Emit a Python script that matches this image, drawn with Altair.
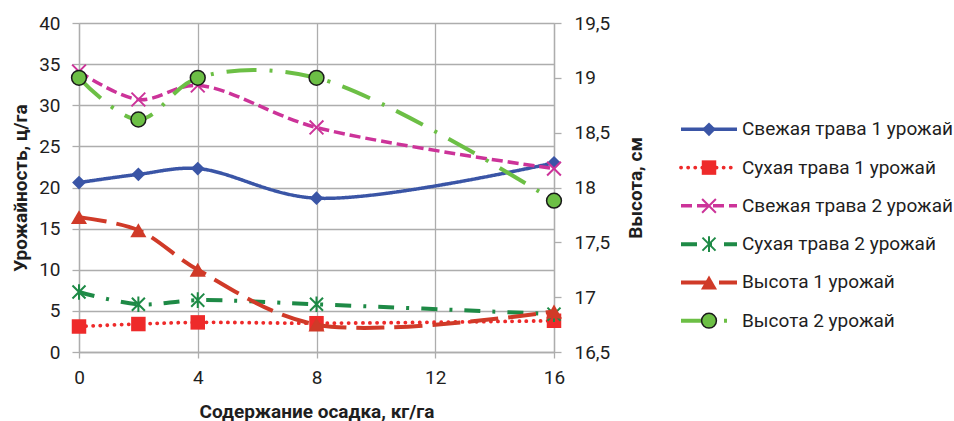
import altair as alt
import pandas as pd

# Sludge dose, kg/ha
dose = [0, 2, 4, 8, 16]

names = [
    "Свежая трава 1 урожай",
    "Сухая трава 1 урожай",
    "Свежая трава 2 урожай",
    "Сухая трава 2 урожай",
    "Высота 1 урожай",
    "Высота 2 урожай",
]

# Yields, c/ha (left axis)
fresh_1 = [20.6, 21.6, 22.3, 18.7, 23.0]
dry_1 = [3.1, 3.4, 3.6, 3.5, 3.8]
fresh_2 = [34.1, 30.7, 32.4, 27.3, 22.3]
dry_2 = [7.3, 5.8, 6.3, 5.8, 4.6]
# Plant height, cm (right axis)
height_1 = [17.73, 17.61, 17.25, 16.75, 16.87]
height_2 = [19.0, 18.62, 19.0, 19.0, 17.88]

series_values = [fresh_1, dry_1, fresh_2, dry_2, height_1, height_2]
left_axis_series = [0, 1, 2, 3]
right_axis_series = [4, 5]

left_ticks = [0, 5, 10, 15, 20, 25, 30, 35, 40]
right_ticks = [16.5, 17, 17.5, 18, 18.5, 19, 19.5]
x_ticks = [0, 4, 8, 12, 16]

# Styling per series
colors = ["#3A55A6", "#EE2A2A", "#CC3399", "#1E8A46", "#D03A28", "#6CBF45"]
dashes = [[1, 0], [0.1, 7], [11, 5], [16, 12, 3, 12], [28, 10], [30, 13, 3, 13]]
widths = [3.5, 3.8, 3.5, 4, 4, 4]
caps = ["butt", "round", "butt", "butt", "butt", "butt"]
X_PATH = "M-1,-1L1,1M-1,1L1,-1"
STAR_PATH = "M-1,-1L1,1M-1,1L1,-1M0,-1.2L0,1.2"
shapes = ["diamond", "square", X_PATH, STAR_PATH, "triangle-up", "circle"]
sizes = [190, 210, 190, 170, 260, 220]
fills = [colors[0], colors[1], None, None, colors[4], colors[5]]
strokes = [None, None, colors[2], colors[3], None, "#1a1a1a"]
stroke_widths = [0, 0, 2, 2, 0, 1.5]

FONT = "Roboto"
GRID = "#ADADAD"
TEXT = "#1E1E1E"

rows = []
for name, vals in zip(names, series_values):
    for d, v in zip(dose, vals):
        rows.append({"series": name, "dose": d, "value": v})
df = pd.DataFrame(rows)
legend_df = pd.DataFrame({"series": names})

x_enc = alt.X(
    "dose:Q",
    scale=alt.Scale(domain=[0, 16], nice=False, zero=False),
    axis=alt.Axis(
        values=x_ticks,
        title="Содержание осадка, кг/га",
        grid=True,
        tickSize=6,
        labelPadding=10,
        labelFlush=False,
        titleX=237.5,
        titleY=59,
        titleBaseline="middle",
    ),
)

y_left = alt.Y(
    "value:Q",
    scale=alt.Scale(domain=[0, 40], nice=False, zero=False),
    axis=alt.Axis(
        values=left_ticks,
        orient="left",
        title="Урожайность, ц/га",
        grid=True,
        tickSize=7,
        labelPadding=12,
        labelFlush=False,
        titleX=-59,
        titleY=164.5,
        titleAngle=270,
        titleBaseline="middle",
        titleAlign="center",
    ),
)

y_right = alt.Y(
    "value:Q",
    scale=alt.Scale(domain=[16.5, 19.5], nice=False, zero=False),
    axis=alt.Axis(
        values=right_ticks,
        orient="right",
        title="Высота, см",
        grid=False,
        tickSize=7,
        labelPadding=13,
        labelFlush=False,
        labelExpr="replace(toString(datum.value), '.', ',')",
        titleX=81,
        titleY=164.5,
        titleAngle=270,
        titleBaseline="middle",
        titleAlign="center",
    ),
)


def marker_props(i):
    props = dict(shape=shapes[i], size=sizes[i], opacity=1, strokeWidth=stroke_widths[i])
    if fills[i] is not None:
        props["filled"] = True
        props["fill"] = fills[i]
    else:
        props["filled"] = False
        props["fill"] = "transparent"
    props["stroke"] = strokes[i] if strokes[i] is not None else fills[i]
    return props


def series_layers(i, y_enc):
    base = alt.Chart(df).transform_filter(alt.datum.series == names[i])
    line = base.mark_line(
        interpolate="catmull-rom",
        color=colors[i],
        strokeWidth=widths[i],
        strokeDash=dashes[i],
        strokeCap=caps[i],
    ).encode(x=x_enc, y=y_enc)
    pts = base.mark_point(**marker_props(i)).encode(x=x_enc, y=y_enc)
    return [line, pts]


left_group = alt.layer(*[l for i in left_axis_series for l in series_layers(i, y_left)])
right_group = alt.layer(*[l for i in right_axis_series for l in series_layers(i, y_right)])

# Legend panel to the right of the plot
legend_y = alt.Y(
    "series:N",
    scale=alt.Scale(type="point", domain=names, range=[106.3, 297.7], padding=0),
    axis=None,
)
legend_layers = []
for i, name in enumerate(names):
    b = alt.Chart(legend_df).transform_filter(alt.datum.series == name)
    legend_layers.append(
        b.mark_rule(
            color=colors[i], strokeWidth=widths[i], strokeDash=dashes[i], strokeCap=caps[i]
        ).encode(x=alt.value(602), x2=alt.value(658), y=legend_y)
    )
    legend_layers.append(
        b.mark_point(**marker_props(i)).encode(x=alt.value(630), y=legend_y)
    )
legend_layers.append(
    alt.Chart(legend_df)
    .mark_text(align="left", baseline="middle", fontSize=19, font=FONT, color=TEXT)
    .encode(x=alt.value(663), y=legend_y, text="series:N")
)
legend_group = alt.layer(*legend_layers)

chart = (
    alt.layer(left_group, right_group, legend_group)
    .resolve_scale(y="independent")
    .properties(
        width=475,
        height=329,
        padding={"left": 79, "top": 23, "right": 400, "bottom": 69},
        autosize=alt.AutoSizeParams(type="none"),
        background="white",
    )
    .configure_view(stroke=None)
    .configure_axis(
        labelFont=FONT,
        labelFontSize=19,
        labelColor=TEXT,
        titleFont=FONT,
        titleFontSize=19,
        titleFontWeight="bold",
        titleColor=TEXT,
        gridColor=GRID,
        gridWidth=1.3,
        tickColor=GRID,
        tickWidth=1.3,
        domainColor=GRID,
        domainWidth=1.3,
    )
)

chart.save("out.html", embed_options={"renderer": "svg", "actions": False})
